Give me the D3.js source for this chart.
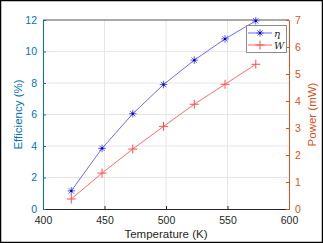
<!DOCTYPE html>
<html>
<head>
<meta charset="utf-8">
<script src="https://cdn.jsdelivr.net/npm/d3@7"></script>
<style>
  html, body { margin: 0; padding: 0; background: #fff; }
  svg { display: block; font-family: "Liberation Sans", Arial, sans-serif; }
</style>
</head>
<body>
<svg id="chart" width="323" height="243"></svg>
<script>
// data
const temperature = [423, 448, 473, 498, 523, 548, 573];
const efficiency = [1.15, 3.85, 6.05, 7.9, 9.45, 10.8, 11.95];
const power = [0.37, 1.33, 2.22, 3.06, 3.88, 4.62, 5.36];
const xTicks = [400, 450, 500, 550, 600];
const effTicks = [0, 2, 4, 6, 8, 10, 12];
const powTicks = [0, 1, 2, 3, 4, 5, 6, 7];

const leftColor = "#0072BD";
const rightColor = "#D95319";

const svg = d3.select("#chart");

// outer frame
svg.append("rect")
    .attr("x", 0.5).attr("y", 0.5)
    .attr("width", 322).attr("height", 242)
    .attr("fill", "white")
    .attr("stroke", "#000")
    .attr("stroke-width", 1.5);

const margin = { top: 20, right: 34, bottom: 34, left: 43 };
const width = 323 - margin.left - margin.right;
const height = 243 - margin.top - margin.bottom;

const g = svg.append("g")
    .attr("transform", `translate(${margin.left},${margin.top})`);

const x = d3.scaleLinear().domain([400, 600]).range([0, width]);
const yL = d3.scaleLinear().domain([0, 12]).range([height, 0]);
const yR = d3.scaleLinear().domain([0, 7]).range([height, 0]);

// grid
g.append("g").selectAll("line").data(xTicks.slice(1, -1)).join("line")
    .attr("x1", d => x(d)).attr("x2", d => x(d))
    .attr("y1", 0).attr("y2", height)
    .attr("stroke", "#e6e6e6").attr("stroke-width", 1);
g.append("g").selectAll("line").data(effTicks.slice(1, -1)).join("line")
    .attr("x1", 0).attr("x2", width)
    .attr("y1", d => yL(d)).attr("y2", d => yL(d))
    .attr("stroke", "#e6e6e6").attr("stroke-width", 1);

// top spine
g.append("line")
    .attr("x1", 0).attr("x2", width).attr("y1", 0).attr("y2", 0)
    .attr("stroke", "#262626").attr("stroke-width", 0.8);

// axes
const xAxis = g.append("g")
    .attr("transform", `translate(0,${height})`)
    .call(d3.axisBottom(x).tickValues(xTicks).tickSize(-3).tickPadding(8).tickFormat(d3.format("d")));
xAxis.select(".domain").attr("stroke", "#262626");
xAxis.selectAll(".tick line").attr("stroke", "#262626");
xAxis.selectAll("text").attr("fill", "#262626").style("font-size", "10.5px");

const lAxis = g.append("g")
    .call(d3.axisLeft(yL).tickValues(effTicks).tickSize(-3).tickPadding(6).tickFormat(d3.format("d")));
lAxis.select(".domain").attr("stroke", leftColor).attr("stroke-width", 1);
lAxis.selectAll(".tick line").attr("stroke", leftColor);
lAxis.selectAll("text").attr("fill", leftColor).style("font-size", "10.5px");

const rAxis = g.append("g")
    .attr("transform", `translate(${width},0)`)
    .call(d3.axisRight(yR).tickValues(powTicks).tickSize(-3).tickPadding(6).tickFormat(d3.format("d")));
rAxis.select(".domain").attr("stroke", rightColor).attr("stroke-width", 1);
rAxis.selectAll(".tick line").attr("stroke", rightColor);
rAxis.selectAll("text").attr("fill", rightColor).style("font-size", "10.5px");

// axis titles
svg.append("text")
    .attr("x", margin.left + width / 2).attr("y", 238)
    .attr("text-anchor", "middle")
    .attr("fill", "#262626")
    .style("font-size", "11.5px")
    .text("Temperature (K)");

svg.append("text")
    .attr("transform", `translate(22,${margin.top + height / 2}) rotate(-90)`)
    .attr("text-anchor", "middle")
    .attr("fill", leftColor)
    .style("font-size", "11.5px")
    .text("Efficiency (%)");

svg.append("text")
    .attr("transform", `translate(316,${margin.top + height / 2}) rotate(-90)`)
    .attr("text-anchor", "middle")
    .attr("fill", rightColor)
    .style("font-size", "11.5px")
    .text("Power (mW)");

// series lines
const blueLine = "#6b6bff";
const redLine = "#ff6b6b";

const effData = temperature.map((t, i) => ({ t, v: efficiency[i] }));
const powData = temperature.map((t, i) => ({ t, v: power[i] }));

g.append("path").datum(powData)
    .attr("fill", "none").attr("stroke", redLine).attr("stroke-width", 1)
    .attr("d", d3.line().x(d => x(d.t)).y(d => yR(d.v)));

g.append("path").datum(effData)
    .attr("fill", "none").attr("stroke", blueLine).attr("stroke-width", 1)
    .attr("d", d3.line().x(d => x(d.t)).y(d => yL(d.v)));

// markers
function asterisk(sel, r) {
    const p = `M${-r},0L${r},0M0,${-r}L0,${r}` +
        `M${-r * 0.7},${-r * 0.7}L${r * 0.7},${r * 0.7}M${-r * 0.7},${r * 0.7}L${r * 0.7},${-r * 0.7}`;
    sel.append("path").attr("d", p).attr("stroke", "#5c5cff").attr("stroke-width", 1).attr("fill", "none");
    sel.append("circle").attr("r", 1.2).attr("fill", "#0000aa");
}
function plus(sel, r) {
    sel.append("path").attr("d", `M${-r},0L${r},0M0,${-r}L0,${r}`)
        .attr("stroke", "#ff4d4d").attr("stroke-width", 1).attr("fill", "none");
}

g.append("g").selectAll("g").data(powData).join("g")
    .attr("transform", d => `translate(${x(d.t)},${yR(d.v)})`)
    .call(plus, 4.5);

g.append("g").selectAll("g").data(effData).join("g")
    .attr("transform", d => `translate(${x(d.t)},${yL(d.v)})`)
    .each(function () { asterisk(d3.select(this), 3.8); });

// legend
const lg = svg.append("g").attr("transform", "translate(246,25)");
lg.append("rect")
    .attr("x", 0.5).attr("y", 0.5).attr("width", 40).attr("height", 27)
    .attr("fill", "white").attr("stroke", "#8c8c8c").attr("stroke-width", 1);

const legendItems = [
    { label: "η", line: blueLine, y: 8 },
    { label: "W", line: redLine, y: 20 }
];
legendItems.forEach((d, i) => {
    lg.append("line")
        .attr("x1", 2).attr("x2", 26).attr("y1", d.y).attr("y2", d.y)
        .attr("stroke", d.line).attr("stroke-width", 1);
    const m = lg.append("g").attr("transform", `translate(14,${d.y})`);
    if (i === 0) asterisk(m, 3.8); else plus(m, 4.5);
    lg.append("text")
        .attr("x", 28).attr("y", d.y + 3.5)
        .attr("fill", "#262626")
        .style("font-family", "'DejaVu Serif', 'Liberation Serif', serif")
        .style("font-style", "italic")
        .style("font-size", "10px")
        .text(d.label);
});
// dot above the W
lg.append("circle").attr("cx", 33).attr("cy", 13.2).attr("r", 0.6).attr("fill", "#262626");
</script>
</body>
</html>
